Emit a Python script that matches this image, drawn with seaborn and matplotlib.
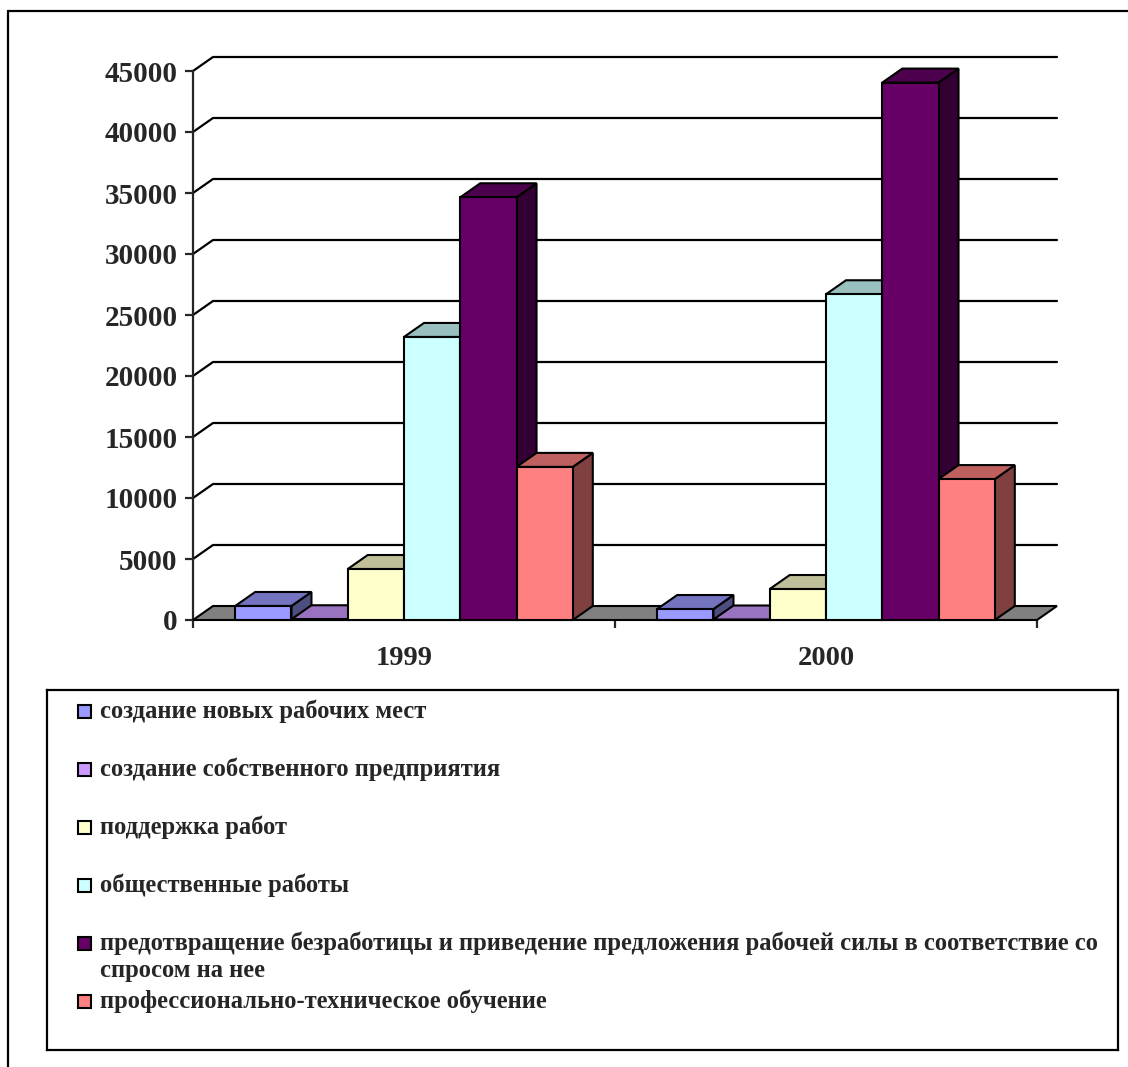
"""
Меры содействия занятости, 1999-2000 — объемная столбчатая диаграмма
"""

import numpy as np
import pandas as pd
import matplotlib
matplotlib.use('Agg')
import matplotlib.pyplot as plt
import matplotlib.colors as mcolors
from matplotlib.patches import Polygon, Rectangle
from matplotlib.lines import Line2D
import seaborn as sns

# ─────────────────────────────────────────────
# DATA
# ─────────────────────────────────────────────
years = ['1999', '2000']
measures = [
    'создание новых рабочих мест',
    'создание собственного предприятия',
    'поддержка работ',
    'общественные работы',
    'предотвращение безработицы и приведение предложения рабочей силы в соответствие со\nспросом на нее',
    'профессионально-техническое обучение',
]
new_jobs     = [1150, 900]
own_business = [60, 40]
work_support = [4180, 2540]
public_works = [23200, 26700]
prevention   = [34650, 44050]
training     = [12550, 11550]
yticks = [0, 5000, 10000, 15000, 20000, 25000, 30000, 35000, 40000, 45000]

COLORS = ['#9999FF', '#CC99FF', '#FFFFCC', '#CCFFFF', '#660066', '#FF8080']

W, H = 1128, 1067
def fx(px): return px / W
def fy(py): return 1 - py / H

sns.set_style('ticks')
plt.rcParams['font.family'] = ['Liberation Serif', 'DejaVu Serif']
plt.rcParams['font.weight'] = 'bold'

rows = []
for name, vals in zip(measures, [new_jobs, own_business, work_support,
                                 public_works, prevention, training]):
    for yr, v in zip(years, vals):
        rows.append({'year': yr, 'measure': name, 'value': v})
df = pd.DataFrame(rows)

fig = plt.figure(figsize=(W / 100, H / 100), dpi=100)
ax = fig.add_axes([fx(193), fy(620), (1037 - 193) / W, (620 - 71) / H])

sns.barplot(data=df, x='year', y='value', hue='measure', hue_order=measures,
            order=years, palette=COLORS, saturation=1, width=0.8,
            edgecolor='black', linewidth=1.5, legend=False, ax=ax)
ax.set_xlim(-0.5, 1.5)
ax.set_ylim(0, 45000)

# depth of the fake 3-D effect, pixels -> data units
DX_PX, DY_PX = 20, 14
dx = DX_PX * 2.0 / (1037 - 193)
dy = DY_PX * 45000.0 / (620 - 71)

def shade(c, k):
    r, g, b, _ = mcolors.to_rgba(c)
    return (r * k, g * k, b * k)

# back wall gridlines + diagonals from the front axis
for v in yticks[1:]:
    ax.plot([-0.5, -0.5 + dx, 1.5 + dx], [v, v + dy, v + dy],
            color='black', lw=1.6, zorder=0.5, clip_on=False)

# floor
ax.add_patch(Polygon([(-0.5, 0), (1.5, 0), (1.5 + dx, dy), (-0.5 + dx, dy)],
                     closed=True, fc='#808080', ec='black', lw=1.5,
                     zorder=1, clip_on=False))

# top and side faces for every bar, left to right
bars = sorted([p for p in ax.patches if isinstance(p, Rectangle)],
              key=lambda p: p.get_x())
for i, p in enumerate(bars):
    x0, w, h = p.get_x(), p.get_width(), p.get_height()
    fc = p.get_facecolor()
    z = 2 + 3 * i
    side = Polygon([(x0 + w, 0), (x0 + w + dx, dy), (x0 + w + dx, h + dy), (x0 + w, h)],
                   closed=True, fc=shade(fc, 0.5), ec='black', lw=1.5,
                   zorder=z, clip_on=False)
    top = Polygon([(x0, h), (x0 + w, h), (x0 + w + dx, h + dy), (x0 + dx, h + dy)],
                  closed=True, fc=shade(fc, 0.75), ec='black', lw=1.5,
                  zorder=z + 1, clip_on=False)
    ax.add_patch(side)
    ax.add_patch(top)
    p.set_zorder(z + 2)
    p.set_clip_on(False)

# axes styling
for s in ['top', 'right', 'bottom']:
    ax.spines[s].set_visible(False)
ax.spines['left'].set_linewidth(1.6)
ax.spines['left'].set_zorder(0.6)
ax.set_yticks(yticks, labels=[str(v) for v in yticks])
ax.tick_params(axis='y', length=6, width=1.6, pad=5, labelsize=21)
ax.set_xticks([0, 1], labels=years)
ax.set_xticks([-0.5, 0.5, 1.5], minor=True)
ax.tick_params(axis='x', which='major', length=0, pad=19, labelsize=20.5)
ax.tick_params(axis='x', which='minor', length=6, width=1.6, direction='out')
ax.set_xlabel('')
ax.set_ylabel('')
for lab in ax.get_xticklabels() + ax.get_yticklabels():
    lab.set_fontweight('bold')

# ─────────────────────────────────────────────
# LEGEND BOX
# ─────────────────────────────────────────────
lax = fig.add_axes([fx(47), fy(1050), (1118 - 47) / W, (1050 - 690) / H])
lax.set_xlim(47, 1118)
lax.set_ylim(1050, 690)
lax.set_xticks([])
lax.set_yticks([])
for s in lax.spines.values():
    s.set_linewidth(1.6)
    s.set_color('black')

row_y = [711, 769, 827, 885, 943, 1001]
for name, c, y in zip(measures, COLORS, row_y):
    lax.add_patch(Rectangle((78, y - 6.5), 13, 13, fc=c, ec='black', lw=1.5))
    lines = name.split('\n')
    for k, line in enumerate(lines):
        lax.text(100, y + 28 * k, line, va='center', ha='left',
                 fontsize=17.7, fontweight='bold')

# outer chart border (left and top edges)
fig.add_artist(Line2D([fx(8), fx(8)], [fy(11), 0], color='black', lw=1.6))
fig.add_artist(Line2D([fx(8), 1], [fy(11), fy(11)], color='black', lw=1.6))

plt.savefig('out.png', dpi=100)
plt.close()
